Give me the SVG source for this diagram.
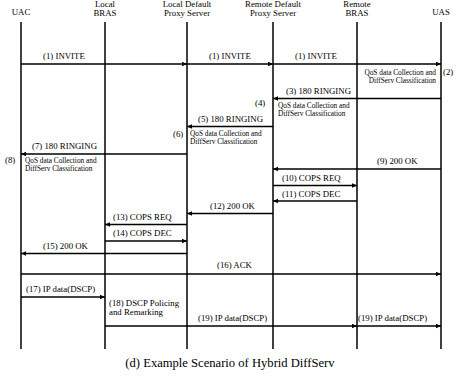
<svg xmlns="http://www.w3.org/2000/svg" width="460" height="377" viewBox="0 0 460 377">
  <defs>
    <marker id="head" markerUnits="userSpaceOnUse" markerWidth="6" markerHeight="5" refX="5" refY="2.25" orient="auto">
      <path d="M0,0 L5,2.25 L0,4.5 z" fill="#000"/>
    </marker>
  </defs>
  <style>
    text { font-family: "Liberation Serif", "Times New Roman", serif; fill: #000; }
    .hdr { font-size: 8.8px; text-anchor: middle; }
    .lbl { font-size: 8.8px; }
    .note { font-size: 7.3px; }
    .life { stroke: #000; stroke-width: 1.5; fill: none; }
    .msg { stroke: #000; stroke-width: 1.3; fill: none; marker-end: url(#head); }
    .cap { font-size: 12.6px; text-anchor: middle; }
  </style>
  <rect width="460" height="377" fill="#fff"/>

  <!-- participants -->
  <g id="uac">
    <text class="hdr" x="21" y="15">UAC</text>
    <line class="life" x1="21" y1="22" x2="21" y2="349"/>
  </g>
  <g id="local-bras">
    <text class="hdr" x="105" y="7">Local</text>
    <text class="hdr" x="105" y="16">BRAS</text>
    <line class="life" x1="105" y1="22" x2="105" y2="349"/>
  </g>
  <g id="local-proxy">
    <text class="hdr" x="187" y="7">Local Default</text>
    <text class="hdr" x="187" y="16">Proxy Server</text>
    <line class="life" x1="187" y1="22" x2="187" y2="349"/>
  </g>
  <g id="remote-proxy">
    <text class="hdr" x="273" y="7">Remote Default</text>
    <text class="hdr" x="273" y="16">Proxy Server</text>
    <line class="life" x1="273" y1="22" x2="273" y2="349"/>
  </g>
  <g id="remote-bras">
    <text class="hdr" x="357" y="7">Remote</text>
    <text class="hdr" x="357" y="16">BRAS</text>
    <line class="life" x1="357" y1="22" x2="357" y2="349"/>
  </g>
  <g id="uas">
    <text class="hdr" x="441" y="15">UAS</text>
    <line class="life" x1="441" y1="22" x2="441" y2="349"/>
  </g>

  <!-- messages -->
  <g id="connectors">
    <path class="msg" d="M21,64 H187"/>
    <text class="lbl" x="43" y="59">(1) INVITE</text>
    <path class="msg" d="M187,64 H273"/>
    <text class="lbl" x="209" y="59">(1) INVITE</text>
    <path class="msg" d="M273,64 H441"/>
    <text class="lbl" x="295" y="59">(1) INVITE</text>

    <path class="msg" d="M441,98.5 H273"/>
    <text class="lbl" x="286" y="94">(3) 180 RINGING</text>

    <path class="msg" d="M273,126.5 H187"/>
    <text class="lbl" x="198" y="122">(5) 180 RINGING</text>

    <path class="msg" d="M187,154 H21"/>
    <text class="lbl" x="32" y="149">(7) 180 RINGING</text>

    <path class="msg" d="M441,169 H273"/>
    <text class="lbl" x="377" y="164">(9) 200 OK</text>

    <path class="msg" d="M273,185.5 H357"/>
    <text class="lbl" x="282" y="181">(10) COPS REQ</text>

    <path class="msg" d="M357,201 H273"/>
    <text class="lbl" x="282" y="196.5">(11) COPS DEC</text>

    <path class="msg" d="M273,213.5 H187"/>
    <text class="lbl" x="210" y="208.5">(12) 200 OK</text>

    <path class="msg" d="M187,224.5 H105"/>
    <text class="lbl" x="113" y="220">(13) COPS REQ</text>

    <path class="msg" d="M105,241 H187"/>
    <text class="lbl" x="113" y="236">(14) COPS DEC</text>

    <path class="msg" d="M187,253.5 H21"/>
    <text class="lbl" x="43" y="249">(15) 200 OK</text>

    <path class="msg" d="M21,274 H441"/>
    <text class="lbl" x="217" y="268">(16) ACK</text>

    <path class="msg" d="M21,297 H105"/>
    <text class="lbl" x="26" y="292">(17) IP data(DSCP)</text>

    <path class="msg" d="M105,326 H357"/>
    <text class="lbl" x="198" y="321">(19) IP data(DSCP)</text>
    <path class="msg" d="M357,326 H441"/>
    <text class="lbl" x="358" y="321">(19) IP data(DSCP)</text>
  </g>

  <!-- processing steps -->
  <g id="step2">
    <text class="note" x="436" y="75" text-anchor="end">QoS data Collection and</text>
    <text class="note" x="436" y="83" text-anchor="end">DiffServ Classification</text>
    <text class="lbl" x="443" y="75">(2)</text>
  </g>
  <g id="step4">
    <text class="lbl" x="255" y="106">(4)</text>
    <text class="note" x="278" y="108">QoS data Collection and</text>
    <text class="note" x="278" y="116">DiffServ Classification</text>
  </g>
  <g id="step6">
    <text class="lbl" x="173" y="137">(6)</text>
    <text class="note" x="190" y="136">QoS data Collection and</text>
    <text class="note" x="190" y="144">DiffServ Classification</text>
  </g>
  <g id="step8">
    <text class="lbl" x="5" y="163">(8)</text>
    <text class="note" x="25" y="163">QoS data Collection and</text>
    <text class="note" x="25" y="171">DiffServ Classification</text>
  </g>
  <g id="step18">
    <text class="lbl" x="109" y="306">(18) DSCP Policing</text>
    <text class="lbl" x="109" y="314.5">and Remarking</text>
  </g>

  <text class="cap" x="230" y="367">(d) Example Scenario of Hybrid DiffServ</text>
</svg>
